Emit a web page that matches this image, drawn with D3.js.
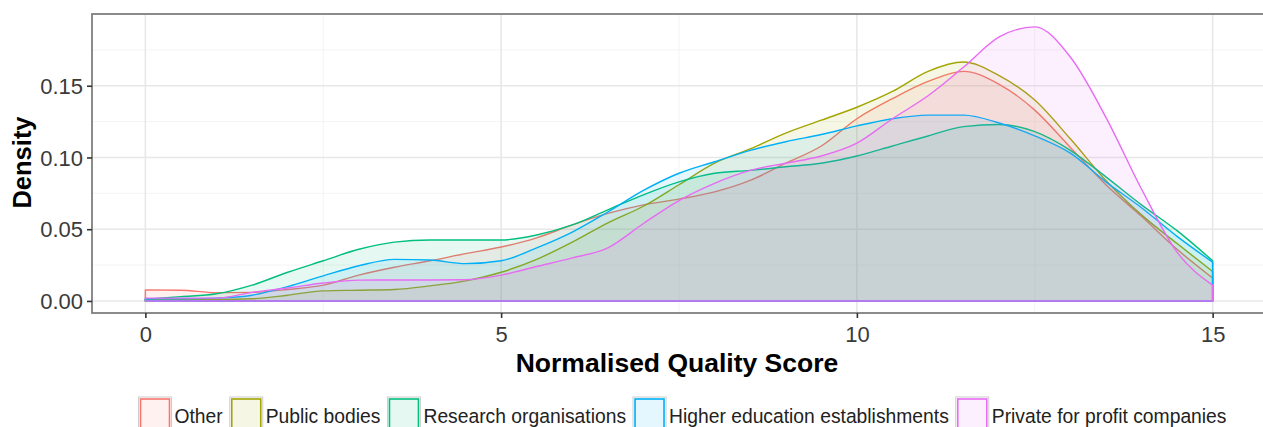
<!DOCTYPE html>
<html>
<head>
<meta charset="utf-8">
<script src="https://cdn.jsdelivr.net/npm/d3@7"></script>
<style>
html,body{margin:0;padding:0;background:#fff;}
svg{display:block;font-family:"Liberation Sans",Arial,sans-serif;}
</style>
</head>
<body>
<svg id="chart" width="1263" height="427"></svg>
<script>
// ---- data ----
const groups = ["Other","Public bodies","Research organisations","Higher education establishments","Private for profit companies"];
const colors = ["#F8766D","#A3A500","#00BF7D","#00B0F6","#E76BF3"];
const scores = [0,0.5,1,1.5,2,2.5,3,3.5,4,4.5,5,5.5,6,6.5,7,7.5,8,8.5,9,9.5,10,10.5,11,11.5,12,12.5,13,13.5,14,14.5,15];
const other   = [0.0077,0.0075,0.0058,0.0060,0.0080,0.0110,0.0180,0.0235,0.0280,0.0330,0.0376,0.0440,0.0530,0.0610,0.0670,0.0710,0.0760,0.0840,0.0960,0.1080,0.1270,0.1410,0.1530,0.1600,0.1510,0.1330,0.1070,0.0810,0.0590,0.0360,0.0160];
const publicB = [0.0010,0.0010,0.0010,0.0015,0.0040,0.0070,0.0075,0.0080,0.0105,0.0140,0.0200,0.0290,0.0410,0.0545,0.0660,0.0810,0.0960,0.1060,0.1170,0.1260,0.1350,0.1460,0.1600,0.1665,0.1570,0.1400,0.1130,0.0840,0.0600,0.0400,0.0205];
const research= [0.0012,0.0030,0.0050,0.0110,0.0200,0.0280,0.0360,0.0410,0.0425,0.0425,0.0425,0.0460,0.0530,0.0635,0.0740,0.0830,0.0890,0.0910,0.0935,0.0960,0.1010,0.1080,0.1150,0.1215,0.1230,0.1180,0.1050,0.0865,0.0670,0.0490,0.0280];
const higher  = [0.0015,0.0015,0.0020,0.0040,0.0100,0.0175,0.0245,0.0290,0.0285,0.0260,0.0280,0.0370,0.0480,0.0620,0.0770,0.0890,0.0970,0.1050,0.1110,0.1160,0.1220,0.1270,0.1295,0.1295,0.1240,0.1150,0.1030,0.0830,0.0650,0.0450,0.0270];
const privateC= [0.0020,0.0020,0.0020,0.0060,0.0090,0.0125,0.0145,0.0146,0.0146,0.0148,0.0180,0.0240,0.0300,0.0370,0.0540,0.0700,0.0820,0.0910,0.0960,0.1010,0.1100,0.1270,0.1430,0.1630,0.1840,0.1910,0.1700,0.1280,0.0780,0.0340,0.0110];
const seriesValues = [other, publicB, research, higher, privateC];
const xTicks = [0,5,10,15];
const xMinor = [2.5,7.5,12.5];
const yTicks = [0,0.05,0.10,0.15];
const yMinor = [0.025,0.075,0.125,0.175];
const xTitle = "Normalised Quality Score";
const yTitle = "Density";

// ---- layout ----
const svg = d3.select("#chart");
const P = {left:92, top:14, right:1266, bottom:313};
const x = d3.scaleLinear().domain([-0.75,15.75]).range([P.left,P.right]);
const y = d3.scaleLinear().domain([-0.0084,0.2]).range([P.bottom,P.top]);

// grid
const g = svg.append("g");
g.selectAll(".gxm").data(xMinor).join("line")
  .attr("x1",d=>x(d)).attr("x2",d=>x(d)).attr("y1",P.top).attr("y2",P.bottom)
  .attr("stroke","#F4F4F4").attr("stroke-width",1);
g.selectAll(".gym").data(yMinor).join("line")
  .attr("x1",P.left).attr("x2",P.right).attr("y1",d=>y(d)).attr("y2",d=>y(d))
  .attr("stroke","#F4F4F4").attr("stroke-width",1);
g.selectAll(".gx").data(xTicks).join("line")
  .attr("x1",d=>x(d)).attr("x2",d=>x(d)).attr("y1",P.top).attr("y2",P.bottom)
  .attr("stroke","#E8E8E8").attr("stroke-width",1.6);
g.selectAll(".gy").data(yTicks).join("line")
  .attr("x1",P.left).attr("x2",P.right).attr("y1",d=>y(d)).attr("y2",d=>y(d))
  .attr("stroke","#E8E8E8").attr("stroke-width",1.6);

// densities
const area = d3.area()
  .x((d,i)=>x(scores[i]))
  .y0(y(0))
  .y1(d=>y(d))
  .curve(d3.curveMonotoneX);
seriesValues.forEach((vals,k)=>{
  svg.append("path")
    .datum(vals)
    .attr("d", d => area(d) )
    .attr("fill", colors[k]).attr("fill-opacity",0.1)
    .attr("stroke", colors[k]).attr("stroke-width",1.4)
    .attr("stroke-linejoin","round");
});

// panel border
svg.append("rect").attr("x",P.left).attr("y",P.top)
  .attr("width",P.right-P.left).attr("height",P.bottom-P.top)
  .attr("fill","none").attr("stroke","#7F7F7F").attr("stroke-width",1.8);

// axes
const xAxis = d3.axisBottom(x).tickValues(xTicks).tickSize(5).tickPadding(8).tickFormat(d3.format("d"));
const yAxis = d3.axisLeft(y).tickValues(yTicks).tickSize(5).tickPadding(4).tickFormat(d3.format(".2f"));
const gx = svg.append("g").attr("transform",`translate(0,${P.bottom})`).call(xAxis);
const gy = svg.append("g").attr("transform",`translate(${P.left},0)`).call(yAxis);
[gx,gy].forEach(a=>{
  a.select(".domain").remove();
  a.selectAll(".tick line").attr("stroke","#333").attr("stroke-width",1.6);
  a.selectAll(".tick text").attr("fill","#3a3a3a").attr("font-size",22)
    .attr("font-family","'Liberation Sans',Arial,sans-serif");
});
gy.selectAll(".tick text").attr("dy","0.35em");

// titles
svg.append("text").attr("x",677).attr("y",372)
  .attr("text-anchor","middle").attr("font-size",26.5).attr("font-weight","bold")
  .attr("fill","#000").text(xTitle);
svg.append("text").attr("transform",`translate(31,${(P.top+P.bottom)/2-1}) rotate(-90)`)
  .attr("text-anchor","middle").attr("font-size",25.5).attr("font-weight","bold")
  .attr("fill","#000").text(yTitle);

// legend
const lg = svg.append("g");
const keyW = 31, keyH = 31, gapText = 4, gapItem = 8, legY = 398;
const items = [];
groups.forEach((name,k)=>{
  const it = lg.append("g");
  it.append("rect").attr("x",-1).attr("y",legY-1).attr("width",keyW+2).attr("height",keyH+2)
    .attr("fill","#fff").attr("stroke","#CCCCCC").attr("stroke-width",1);
  it.append("rect").attr("x",1).attr("y",legY+1).attr("width",keyW-2).attr("height",keyH-2)
    .attr("fill",colors[k]).attr("fill-opacity",0.1)
    .attr("stroke",colors[k]).attr("stroke-width",1.6);
  const t = it.append("text").attr("x",keyW+gapText).attr("y",423)
    .attr("font-size",19.3).attr("fill","#222").text(name);
  const w = t.node().getComputedTextLength();
  items.push({it, w});
});
let total = 0;
items.forEach((d,i)=>{ total += keyW + gapText + d.w + (i<items.length-1?gapItem:0); });
let start = 683 - total/2;
items.forEach(d=>{
  d.it.attr("transform",`translate(${start},0)`);
  start += keyW + gapText + d.w + gapItem;
});
</script>
</body>
</html>
